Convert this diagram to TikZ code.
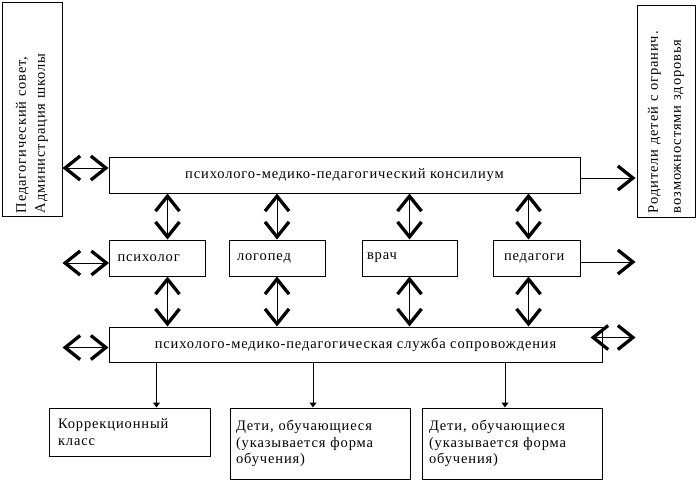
\documentclass[tikz,border=0pt]{standalone}
\usepackage{fontspec}
\setmainfont{Liberation Serif}[LetterSpace=6]
\usetikzlibrary{arrows.meta,calc}
\begin{document}
\begin{tikzpicture}[x=1pt, y=-1pt, line width=1pt,
  box/.style={draw, rectangle, inner sep=0pt, font=\fontsize{14.5}{16.5}\selectfont},
  >={Straight Barb[length=15pt,width=24pt,line width=3.3pt]},
  dn/.style={-{Triangle[length=5pt,width=7pt]}}]
\useasboundingbox (0,0) rectangle (698,482);
% side boxes
\node[box, rotate=90, minimum height=60pt, text width=208pt, inner xsep=3pt, align=left]
  (PS) at (32,109) {Педагогический совет,\\[2.5pt]Администрация школы};
\node[box, rotate=90, minimum height=58pt, text width=204pt, inner xsep=4pt, align=left]
  (RD) at (666,111) {Родители детей с огранич.\\[6.5pt]возможностями здоровья};
% main boxes
\node[box, minimum width=471pt, minimum height=36pt] (PMPK) at (344.5,175) {психолого-медико-педагогический консилиум};
\node[box, minimum width=493pt, minimum height=35pt] (SL) at (355.5,344.5) {психолого-медико-педагогическая служба сопровождения};
% specialists
\node[box, minimum height=36pt, text width=80pt, inner xsep=8pt, align=left] (PSY) at (157.5,258) {психолог};
\node[box, minimum height=36pt, text width=80pt, inner xsep=8pt, align=left] (LOG) at (277,258) {логопед};
\node[box, minimum height=36pt, text width=85pt, inner xsep=5pt, align=left] (VR) at (409.5,258) {врач};
\node[box, minimum height=36pt, text width=65pt, inner xsep=11pt, align=left] (PED) at (536.5,258) {педагоги};
% bottom row
\node[box, minimum height=48pt, text width=143pt, inner xsep=9pt, align=left] (KK) at (129.5,432) {Коррекционный\\класс};
\node[box, minimum height=71pt, text width=168pt, inner xsep=6pt, align=left] (D1) at (320,443.5) {Дети, обучающиеся\\(указывается форма\\обучения)};
\node[box, minimum height=71pt, text width=166pt, inner xsep=7pt, align=left] (D2) at (512,443.5) {Дети, обучающиеся\\(указывается форма\\обучения)};
% connectors
\draw[<->] ($(PS.south |- PMPK.west)+(0,-7)$) -- ($(PMPK.west)+(0,-7)$);
\draw[->] ($(PMPK.east)+(0,3)$) -- ($(RD.north |- PMPK.east)+(-1,3)$);
\foreach \n/\dx in {PSY/10, LOG/0, VR/0, PED/-8} {
  \draw[<->] ($(\n.north |- PMPK.south)+(\dx,0)$) -- ($(\n.north)+(\dx,0)$);
  \draw[<->] ($(\n.south)+(\dx,0)$) -- ($(\n.south |- SL.north)+(\dx,0)$);
}
\draw[<->] ($(PS.south |- PSY.west)+(0,5)$) -- ($(PSY.west)+(0,5)$);
\draw[->] ($(PED.east)+(0,4)$) -- ($(RD.north |- PED.east)+(-1,4)$);
\draw[<->] ($(PS.south |- SL.west)+(0,3)$) -- ($(SL.west)+(0,3)$);
\draw[<->] ($(SL.east)+(-12,-7)$) -- ($(RD.north |- SL.east)+(-1,-7)$);
\draw[dn] ($(KK.north |- SL.south)+(27,0)$) -- ($(KK.north)+(27,0)$);
\draw[dn] ($(D1.north |- SL.south)+(-7,0)$) -- ($(D1.north)+(-7,0)$);
\draw[dn] ($(D2.north |- SL.south)+(-7,0)$) -- ($(D2.north)+(-7,0)$);
\end{tikzpicture}
\end{document}
